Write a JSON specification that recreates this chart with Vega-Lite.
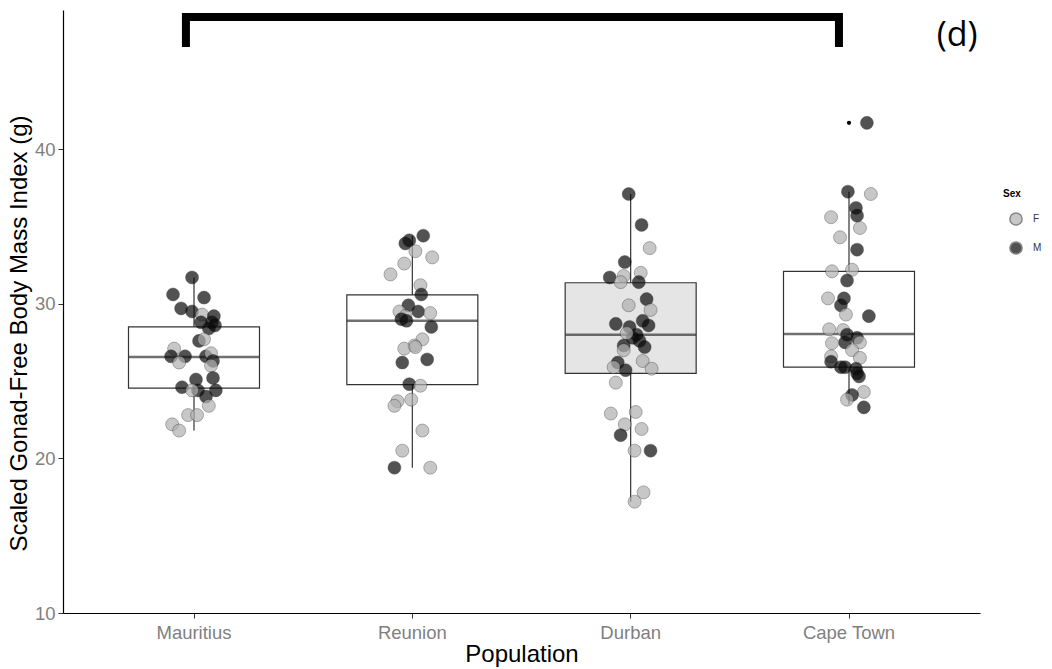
{
  "$schema": "https://vega.github.io/schema/vega-lite/v6.json",
  "width": 917,
  "height": 603,
  "autosize": {"type": "none"},
  "padding": {"left": 63, "top": 10, "right": 72, "bottom": 56},
  "background": "white",
  "config": {
    "view": {"stroke": null},
    "font": "Liberation Sans",
    "axis": {"grid": false, "domainColor": "#000000", "domainWidth": 1.2, "tickColor": "#333333", "tickSize": 5, "labelColor": "#7f7f7f", "labelFontSize": 18.5, "titleFontSize": 24, "titleFontWeight": "normal", "titleColor": "#000000", "labelFont": "Liberation Sans", "titleFont": "Liberation Sans"}
  },
  "datasets": {
    "pts": [
      {"pop": "Mauritius", "sex": "M", "jit": -0.009, "v": 31.7},
      {"pop": "Mauritius", "sex": "M", "jit": -0.096, "v": 30.6},
      {"pop": "Mauritius", "sex": "M", "jit": 0.046, "v": 30.4},
      {"pop": "Mauritius", "sex": "M", "jit": -0.059, "v": 29.7},
      {"pop": "Mauritius", "sex": "M", "jit": -0.009, "v": 29.5},
      {"pop": "Mauritius", "sex": "F", "jit": 0.037, "v": 29.3},
      {"pop": "Mauritius", "sex": "M", "jit": 0.091, "v": 29.2},
      {"pop": "Mauritius", "sex": "M", "jit": 0.032, "v": 28.8},
      {"pop": "Mauritius", "sex": "M", "jit": 0.082, "v": 28.8},
      {"pop": "Mauritius", "sex": "M", "jit": 0.096, "v": 28.6},
      {"pop": "Mauritius", "sex": "M", "jit": 0.068, "v": 28.4},
      {"pop": "Mauritius", "sex": "M", "jit": 0.023, "v": 27.6},
      {"pop": "Mauritius", "sex": "F", "jit": 0.046, "v": 27.7},
      {"pop": "Mauritius", "sex": "F", "jit": -0.091, "v": 27.1},
      {"pop": "Mauritius", "sex": "M", "jit": -0.105, "v": 26.6},
      {"pop": "Mauritius", "sex": "M", "jit": -0.041, "v": 26.6},
      {"pop": "Mauritius", "sex": "F", "jit": -0.068, "v": 26.2},
      {"pop": "Mauritius", "sex": "M", "jit": 0.055, "v": 26.6},
      {"pop": "Mauritius", "sex": "F", "jit": 0.078, "v": 26.8},
      {"pop": "Mauritius", "sex": "M", "jit": 0.087, "v": 26.3},
      {"pop": "Mauritius", "sex": "F", "jit": 0.078, "v": 26.0},
      {"pop": "Mauritius", "sex": "M", "jit": -0.055, "v": 24.6},
      {"pop": "Mauritius", "sex": "M", "jit": 0.009, "v": 25.1},
      {"pop": "Mauritius", "sex": "M", "jit": 0.087, "v": 25.2},
      {"pop": "Mauritius", "sex": "M", "jit": 0.018, "v": 24.4},
      {"pop": "Mauritius", "sex": "M", "jit": 0.1, "v": 24.4},
      {"pop": "Mauritius", "sex": "M", "jit": 0.055, "v": 24.0},
      {"pop": "Mauritius", "sex": "F", "jit": -0.009, "v": 24.4},
      {"pop": "Mauritius", "sex": "F", "jit": 0.068, "v": 23.4},
      {"pop": "Mauritius", "sex": "F", "jit": -0.027, "v": 22.8},
      {"pop": "Mauritius", "sex": "F", "jit": 0.014, "v": 22.8},
      {"pop": "Mauritius", "sex": "F", "jit": -0.1, "v": 22.2},
      {"pop": "Mauritius", "sex": "F", "jit": -0.068, "v": 21.8},
      {"pop": "Reunion", "sex": "M", "jit": 0.05, "v": 34.4},
      {"pop": "Reunion", "sex": "M", "jit": -0.014, "v": 34.1},
      {"pop": "Reunion", "sex": "M", "jit": -0.032, "v": 33.9},
      {"pop": "Reunion", "sex": "F", "jit": 0.014, "v": 33.4},
      {"pop": "Reunion", "sex": "F", "jit": 0.091, "v": 33.0},
      {"pop": "Reunion", "sex": "F", "jit": -0.037, "v": 32.6},
      {"pop": "Reunion", "sex": "F", "jit": -0.1, "v": 31.9},
      {"pop": "Reunion", "sex": "F", "jit": 0.037, "v": 31.2},
      {"pop": "Reunion", "sex": "M", "jit": 0.041, "v": 30.6},
      {"pop": "Reunion", "sex": "M", "jit": -0.018, "v": 29.9},
      {"pop": "Reunion", "sex": "M", "jit": 0.027, "v": 29.5},
      {"pop": "Reunion", "sex": "F", "jit": -0.059, "v": 29.5},
      {"pop": "Reunion", "sex": "F", "jit": 0.082, "v": 29.4},
      {"pop": "Reunion", "sex": "F", "jit": -0.032, "v": 29.2},
      {"pop": "Reunion", "sex": "M", "jit": -0.05, "v": 29.0},
      {"pop": "Reunion", "sex": "M", "jit": -0.027, "v": 28.9},
      {"pop": "Reunion", "sex": "M", "jit": 0.087, "v": 28.5},
      {"pop": "Reunion", "sex": "F", "jit": 0.046, "v": 27.7},
      {"pop": "Reunion", "sex": "F", "jit": 0.009, "v": 27.3},
      {"pop": "Reunion", "sex": "F", "jit": -0.037, "v": 27.1},
      {"pop": "Reunion", "sex": "F", "jit": 0.014, "v": 27.2},
      {"pop": "Reunion", "sex": "M", "jit": -0.046, "v": 26.2},
      {"pop": "Reunion", "sex": "M", "jit": 0.068, "v": 26.4},
      {"pop": "Reunion", "sex": "M", "jit": -0.014, "v": 24.8},
      {"pop": "Reunion", "sex": "F", "jit": 0.037, "v": 24.7},
      {"pop": "Reunion", "sex": "F", "jit": -0.005, "v": 23.8},
      {"pop": "Reunion", "sex": "F", "jit": -0.068, "v": 23.7},
      {"pop": "Reunion", "sex": "F", "jit": -0.082, "v": 23.4},
      {"pop": "Reunion", "sex": "F", "jit": 0.046, "v": 21.8},
      {"pop": "Reunion", "sex": "F", "jit": -0.046, "v": 20.5},
      {"pop": "Reunion", "sex": "M", "jit": -0.082, "v": 19.4},
      {"pop": "Reunion", "sex": "F", "jit": 0.082, "v": 19.4},
      {"pop": "Durban", "sex": "M", "jit": -0.009, "v": 37.1},
      {"pop": "Durban", "sex": "M", "jit": 0.05, "v": 35.1},
      {"pop": "Durban", "sex": "F", "jit": 0.087, "v": 33.6},
      {"pop": "Durban", "sex": "M", "jit": -0.027, "v": 32.7},
      {"pop": "Durban", "sex": "M", "jit": -0.096, "v": 31.7},
      {"pop": "Durban", "sex": "F", "jit": -0.032, "v": 31.8},
      {"pop": "Durban", "sex": "F", "jit": 0.046, "v": 32.0},
      {"pop": "Durban", "sex": "F", "jit": -0.046, "v": 31.4},
      {"pop": "Durban", "sex": "M", "jit": 0.037, "v": 31.4},
      {"pop": "Durban", "sex": "M", "jit": 0.073, "v": 30.3},
      {"pop": "Durban", "sex": "F", "jit": 0.091, "v": 29.6},
      {"pop": "Durban", "sex": "F", "jit": -0.009, "v": 29.9},
      {"pop": "Durban", "sex": "M", "jit": -0.068, "v": 28.7},
      {"pop": "Durban", "sex": "M", "jit": -0.005, "v": 28.5},
      {"pop": "Durban", "sex": "M", "jit": 0.055, "v": 28.9},
      {"pop": "Durban", "sex": "M", "jit": 0.082, "v": 28.6},
      {"pop": "Durban", "sex": "M", "jit": 0.027, "v": 28.0},
      {"pop": "Durban", "sex": "M", "jit": 0.009, "v": 27.8},
      {"pop": "Durban", "sex": "F", "jit": -0.018, "v": 28.1},
      {"pop": "Durban", "sex": "M", "jit": -0.032, "v": 27.3},
      {"pop": "Durban", "sex": "M", "jit": 0.041, "v": 27.6},
      {"pop": "Durban", "sex": "M", "jit": 0.064, "v": 27.2},
      {"pop": "Durban", "sex": "F", "jit": -0.032, "v": 27.0},
      {"pop": "Durban", "sex": "F", "jit": 0.055, "v": 26.3},
      {"pop": "Durban", "sex": "M", "jit": -0.059, "v": 26.2},
      {"pop": "Durban", "sex": "M", "jit": -0.023, "v": 25.7},
      {"pop": "Durban", "sex": "F", "jit": -0.078, "v": 25.9},
      {"pop": "Durban", "sex": "F", "jit": 0.096, "v": 25.8},
      {"pop": "Durban", "sex": "F", "jit": -0.068, "v": 24.9},
      {"pop": "Durban", "sex": "F", "jit": -0.091, "v": 22.9},
      {"pop": "Durban", "sex": "F", "jit": 0.023, "v": 23.0},
      {"pop": "Durban", "sex": "F", "jit": -0.027, "v": 22.2},
      {"pop": "Durban", "sex": "F", "jit": 0.05, "v": 21.9},
      {"pop": "Durban", "sex": "M", "jit": -0.046, "v": 21.5},
      {"pop": "Durban", "sex": "F", "jit": 0.018, "v": 20.5},
      {"pop": "Durban", "sex": "M", "jit": 0.091, "v": 20.5},
      {"pop": "Durban", "sex": "F", "jit": 0.059, "v": 17.8},
      {"pop": "Durban", "sex": "F", "jit": 0.018, "v": 17.2},
      {"pop": "Cape Town", "sex": "M", "jit": 0.082, "v": 41.7},
      {"pop": "Cape Town", "sex": "M", "jit": -0.005, "v": 37.25},
      {"pop": "Cape Town", "sex": "F", "jit": 0.1, "v": 37.1},
      {"pop": "Cape Town", "sex": "M", "jit": 0.032, "v": 36.2},
      {"pop": "Cape Town", "sex": "M", "jit": 0.037, "v": 35.7},
      {"pop": "Cape Town", "sex": "F", "jit": -0.082, "v": 35.6},
      {"pop": "Cape Town", "sex": "F", "jit": 0.05, "v": 34.9},
      {"pop": "Cape Town", "sex": "F", "jit": -0.041, "v": 34.3},
      {"pop": "Cape Town", "sex": "M", "jit": 0.037, "v": 33.5},
      {"pop": "Cape Town", "sex": "F", "jit": -0.078, "v": 32.1},
      {"pop": "Cape Town", "sex": "F", "jit": 0.014, "v": 32.2},
      {"pop": "Cape Town", "sex": "M", "jit": -0.009, "v": 31.5},
      {"pop": "Cape Town", "sex": "F", "jit": -0.096, "v": 30.35},
      {"pop": "Cape Town", "sex": "M", "jit": -0.023, "v": 30.35},
      {"pop": "Cape Town", "sex": "M", "jit": -0.037, "v": 29.9},
      {"pop": "Cape Town", "sex": "F", "jit": -0.014, "v": 29.3},
      {"pop": "Cape Town", "sex": "M", "jit": 0.091, "v": 29.2},
      {"pop": "Cape Town", "sex": "F", "jit": -0.091, "v": 28.35},
      {"pop": "Cape Town", "sex": "F", "jit": -0.027, "v": 28.3},
      {"pop": "Cape Town", "sex": "M", "jit": -0.009, "v": 28.0},
      {"pop": "Cape Town", "sex": "M", "jit": 0.037, "v": 27.8},
      {"pop": "Cape Town", "sex": "M", "jit": -0.018, "v": 27.5},
      {"pop": "Cape Town", "sex": "F", "jit": -0.078, "v": 27.45},
      {"pop": "Cape Town", "sex": "F", "jit": 0.05, "v": 27.5},
      {"pop": "Cape Town", "sex": "F", "jit": 0.014, "v": 27.0},
      {"pop": "Cape Town", "sex": "F", "jit": 0.05, "v": 26.5},
      {"pop": "Cape Town", "sex": "F", "jit": -0.082, "v": 26.6},
      {"pop": "Cape Town", "sex": "M", "jit": -0.082, "v": 26.25},
      {"pop": "Cape Town", "sex": "M", "jit": -0.037, "v": 25.9},
      {"pop": "Cape Town", "sex": "M", "jit": -0.018, "v": 25.9},
      {"pop": "Cape Town", "sex": "M", "jit": 0.032, "v": 25.8},
      {"pop": "Cape Town", "sex": "M", "jit": 0.046, "v": 25.3},
      {"pop": "Cape Town", "sex": "M", "jit": 0.037, "v": 25.5},
      {"pop": "Cape Town", "sex": "F", "jit": 0.068, "v": 24.3},
      {"pop": "Cape Town", "sex": "M", "jit": 0.014, "v": 24.1},
      {"pop": "Cape Town", "sex": "F", "jit": -0.009, "v": 23.8},
      {"pop": "Cape Town", "sex": "M", "jit": 0.068, "v": 23.3}
    ],
    "box": [
      {"pop": "Mauritius", "lo": 21.8, "q1": 24.55, "med": 26.56, "q3": 28.5, "hi": 31.7},
      {"pop": "Reunion", "lo": 19.4, "q1": 24.77, "med": 28.9, "q3": 30.57, "hi": 34.4},
      {"pop": "Durban", "lo": 17.2, "q1": 25.5, "med": 28.0, "q3": 31.36, "hi": 37.1},
      {"pop": "Cape Town", "lo": 23.5, "q1": 25.9, "med": 28.05, "q3": 32.1, "hi": 37.25}
    ],
    "outlier": [
      {"pop": "Cape Town", "v": 41.7}
    ],
    "bracket": [
      {"o": 1, "pop": "Mauritius", "jit": -0.037, "v": 46.6},
      {"o": 2, "pop": "Mauritius", "jit": -0.037, "v": 48.55},
      {"o": 3, "pop": "Cape Town", "jit": -0.046, "v": 48.55},
      {"o": 4, "pop": "Cape Town", "jit": -0.046, "v": 46.6}
    ],
    "label": [
      {"pop": "Cape Town", "jit": 0.495, "v": 47.3, "text": "(d)"}
    ]
  },
  "encoding": {
    "x": {
      "field": "pop", "type": "nominal",
      "scale": {"domain": ["Mauritius", "Reunion", "Durban", "Cape Town"], "type": "band", "paddingInner": 0, "paddingOuter": 0.1},
      "axis": {"title": "Population", "labelAngle": 0, "labelPadding": 5, "titlePadding": 1, "ticks": true}
    }
  },
  "layer": [
    {
      "data": {"name": "box"},
      "mark": {"type": "rule", "color": "#333333", "strokeWidth": 1.2},
      "encoding": {
        "y": {"field": "lo", "type": "quantitative", "scale": {"domain": [10, 49], "nice": false, "zero": false},
          "axis": {"title": "Scaled Gonad-Free Body Mass Index (g)", "values": [10, 20, 30, 40], "labelPadding": 3, "titlePadding": 3, "titleY": 323}},
        "y2": {"field": "hi"}
      }
    },
    {
      "data": {"name": "box"},
      "mark": {"type": "bar", "stroke": "#333333", "strokeWidth": 1.2, "width": 131},
      "encoding": {
        "y": {"field": "q1", "type": "quantitative"},
        "y2": {"field": "q3"},
        "fill": {"condition": {"test": "datum.pop === 'Durban'", "value": "#e5e5e5"}, "value": "#ffffff"}
      }
    },
    {
      "data": {"name": "box"},
      "mark": {"type": "tick", "color": "#333333", "thickness": 2.5, "size": 131, "orient": "horizontal"},
      "encoding": {
        "y": {"field": "med", "type": "quantitative"}
      }
    },
    {
      "data": {"name": "outlier"},
      "mark": {"type": "circle", "color": "#000000", "size": 18, "opacity": 1},
      "encoding": {
        "y": {"field": "v", "type": "quantitative"}
      }
    },
    {
      "data": {"name": "pts"},
      "mark": {"type": "point", "filled": true, "shape": "circle", "size": 170, "opacity": 0.7, "stroke": "#000000", "strokeWidth": 1, "strokeOpacity": 0.4},
      "encoding": {
        "xOffset": {"field": "jit", "type": "quantitative", "scale": {"domain": [-0.5, 0.5]}},
        "y": {"field": "v", "type": "quantitative"},
        "color": {
          "field": "sex", "type": "nominal",
          "scale": {"domain": ["F", "M"], "range": ["#b0b0b0", "#0a0a0a"]},
          "legend": {"title": "Sex", "orient": "none", "legendX": 940, "legendY": 179, "titleFontSize": 10, "titleFontWeight": "bold", "titleColor": "#000000", "labelFontSize": 10, "labelColor": "#333333", "symbolSize": 150, "rowPadding": 9, "symbolStrokeColor": "#555555", "symbolOpacity": 0.7, "titlePadding": 13, "labelOffset": 10, "symbolOffset": 6}
        }
      }
    },
    {
      "data": {"name": "bracket"},
      "mark": {"type": "line", "color": "#000000", "strokeWidth": 8, "strokeCap": "butt", "strokeJoin": "miter"},
      "encoding": {
        "xOffset": {"field": "jit", "type": "quantitative", "scale": {"domain": [-0.5, 0.5]}},
        "y": {"field": "v", "type": "quantitative"},
        "order": {"field": "o", "type": "quantitative"}
      }
    },
    {
      "data": {"name": "label"},
      "mark": {"type": "text", "fontSize": 34, "font": "Open Sans", "color": "#000000", "align": "center", "baseline": "middle"},
      "encoding": {
        "xOffset": {"field": "jit", "type": "quantitative", "scale": {"domain": [-0.5, 0.5]}},
        "y": {"field": "v", "type": "quantitative"},
        "text": {"field": "text"}
      }
    }
  ]
}
